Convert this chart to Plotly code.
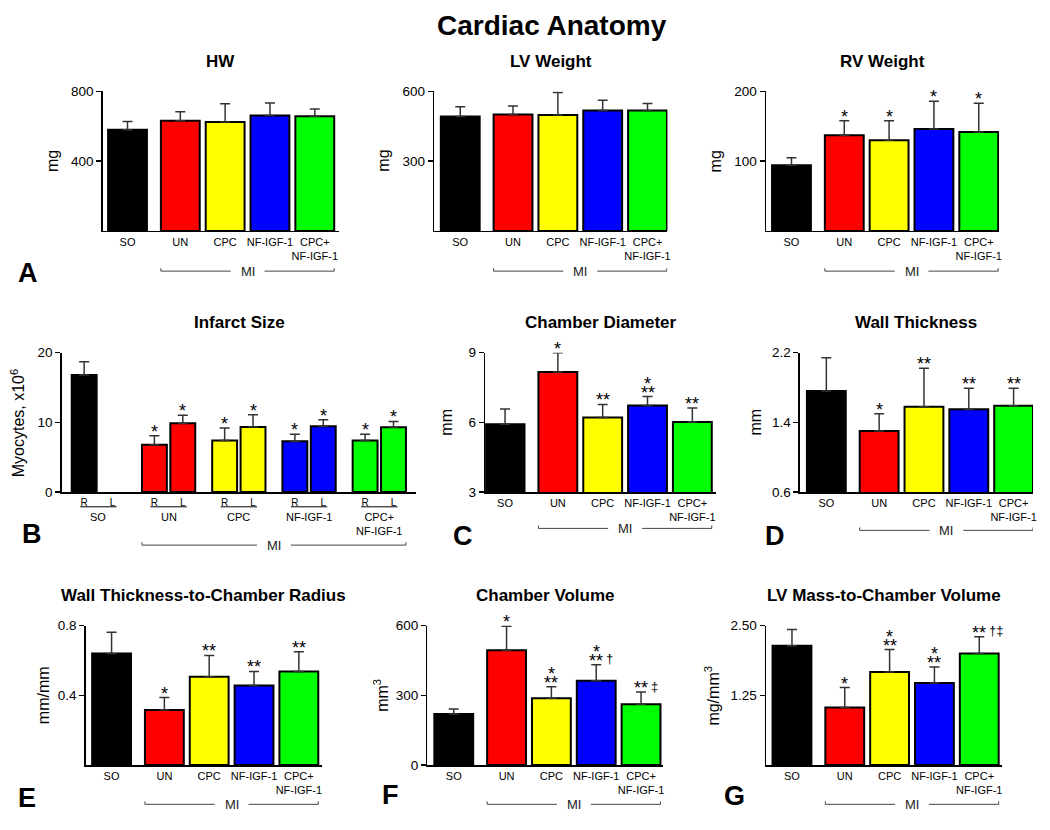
import plotly.graph_objects as go

W, H = 1050, 830
FONT = "Liberation Sans, Arial, sans-serif"

# ---------------- data ----------------
groups = ["SO", "UN", "CPC", "NF-IGF-1", "CPC+<br>NF-IGF-1"]
bar_colors = ["#000000", "#ff0000", "#ffff00", "#0000ff", "#00ff00"]

hw_mean = [580, 632, 625, 662, 657]
hw_err = [47, 51, 105, 72, 43]
hw_sig = [[], [], [], [], []]

lvw_mean = [492, 501, 499, 518, 518]
lvw_err = [42, 36, 97, 44, 30]
lvw_sig = [[], [], [], [], []]

rvw_mean = [94, 137, 130, 146, 142]
rvw_err = [11, 21, 28, 40, 41]
rvw_sig = [[], ["*"], ["*"], ["*"], ["*"]]

infarct_groups = ["SO", "UN", "CPC", "NF-IGF-1", "CPC+<br>NF-IGF-1"]
infarct_R_mean = [16.8, 6.8, 7.4, 7.3, 7.4]
infarct_R_err = [1.9, 1.27, 1.78, 0.99, 0.89]
infarct_L_mean = [None, 9.86, 9.34, 9.44, 9.30]
infarct_L_err = [0, 1.15, 1.74, 0.94, 0.84]
infarct_R_sig = [[], ["*"], ["*"], ["*"], ["*"]]
infarct_L_sig = [[], ["*"], ["*"], ["*"], ["*"]]

cd_mean = [5.92, 8.17, 6.21, 6.72, 6.01]
cd_err = [0.66, 0.82, 0.56, 0.39, 0.61]
cd_sig = [[], ["*"], ["**"], ["*", "**"], ["**"]]

wt_mean = [1.76, 1.30, 1.58, 1.55, 1.59]
wt_err = [0.38, 0.20, 0.44, 0.24, 0.20]
wt_sig = [[], ["*"], ["**"], ["**"], ["**"]]

wtr_mean = [0.640, 0.316, 0.507, 0.456, 0.537]
wtr_err = [0.122, 0.071, 0.122, 0.081, 0.113]
wtr_sig = [[], ["*"], ["**"], ["**"], ["**"]]

cv_mean = [220, 494, 287, 363, 262]
cv_err = [21, 103, 50, 69, 52]
cv_sig = [[], ["*"], ["*", "**"], ["*", "**†"], ["**‡"]]

lvm_mean = [2.14, 1.03, 1.67, 1.47, 2.00]
lvm_err = [0.29, 0.36, 0.40, 0.29, 0.30]
lvm_sig = [[], ["*"], ["*", "**"], ["*", "**"], ["**†‡"]]

# ---------------- layout helpers ----------------
UNIT = 45.0      # spacing between MI bars (px)
MI_GAP = 53.0    # SO -> UN spacing (px)
BW = 39.0        # bar width (px)

def px(x):
    return x / W

def py(y):
    return 1 - y / H

fig = go.Figure()
layout = dict(
    width=W, height=H, margin=dict(l=0, r=0, t=0, b=0),
    plot_bgcolor="white", paper_bgcolor="white", showlegend=False,
    font=dict(family=FONT, color="black"),
)
annotations = []
shapes = []

def ax_names(i):
    s = "" if i == 1 else str(i)
    return "x" + s, "y" + s, "xaxis" + s, "yaxis" + s

def star_annots(xref, yref, x, ytop, lines):
    # lines listed top -> bottom
    n = len(lines)
    for k, s in enumerate(lines):
        level = n - 1 - k
        stars = s.rstrip("†‡")
        suffix = s[len(stars):]
        shift = 4 + level * 9
        annotations.append(dict(
            x=x, y=ytop, xref=xref, yref=yref, text=stars, showarrow=False,
            xanchor="center", yanchor="middle", yshift=shift,
            font=dict(size=18, family=FONT, color="black")))
        if suffix:
            annotations.append(dict(
                x=x, y=ytop, xref=xref, yref=yref, text=suffix, showarrow=False,
                xanchor="left", yanchor="middle", yshift=shift + 2,
                xshift=len(stars) * 3.6 + 1,
                font=dict(size=13, family=FONT, color="black")))

def mi_bracket(xref, x_left, x_right, y_px):
    xc = (x_left + x_right) / 2
    yl = py(y_px)
    ln = dict(color="#444", width=1)
    shapes.append(dict(type="line", xref=xref, yref="paper", x0=x_left, x1=xc - 17,
                       y0=yl, y1=yl, line=ln))
    shapes.append(dict(type="line", xref=xref, yref="paper", x0=xc + 17, x1=x_right,
                       y0=yl, y1=yl, line=ln))
    for xe in (x_left, x_right):
        shapes.append(dict(type="line", xref=xref, yref="paper", x0=xe, x1=xe,
                           y0=yl, y1=py(y_px - 3), line=ln))
    annotations.append(dict(x=xc, y=yl, xref=xref, yref="paper", text="MI",
                            showarrow=False, xanchor="center", yanchor="middle",
                            font=dict(size=13, family=FONT, color="#222")))

def axis_common():
    return dict(showgrid=False, zeroline=False, showline=True, linecolor="black",
                linewidth=1.5, fixedrange=True)

def add_title(text, xc_px, y_px):
    annotations.append(dict(x=px(xc_px), y=py(y_px), xref="paper", yref="paper",
                            text="<b>" + text + "</b>", showarrow=False,
                            xanchor="center", yanchor="middle",
                            font=dict(size=17, family=FONT, color="black")))

def add_ylabel(text, x_px, y_px):
    annotations.append(dict(x=px(x_px), y=py(y_px), xref="paper", yref="paper",
                            text=text, showarrow=False, textangle=-90,
                            xanchor="center", yanchor="middle",
                            font=dict(size=16, family=FONT, color="black")))

def add_letter(text, x_px, y_px):
    annotations.append(dict(x=px(x_px), y=py(y_px), xref="paper", yref="paper",
                            text="<b>" + text + "</b>", showarrow=False,
                            xanchor="center", yanchor="middle",
                            font=dict(size=27, family=FONT, color="black")))

def y_axis(i, yr, ytv, ytt, top, bottom, anchor):
    d = axis_common()
    d.update(domain=[py(bottom), py(top)], range=yr, tickvals=ytv, ticktext=ytt,
             ticks="outside", ticklen=5, tickwidth=1.5, tickcolor="black",
             tickfont=dict(size=13.5, family=FONT, color="black"), anchor=anchor)
    return d

# ---------------- standard panels ----------------
panels = [
    dict(i=1, title="HW", ylabel="mg", mean=hw_mean, err=hw_err, sig=hw_sig,
         yr=[0, 800], ytv=[400, 800], ytt=["400", "800"],
         left=103, so=128, right=340, top=86, bottom=228, title_y=55, ylab_x=52,
         letter="A", letter_xy=(28, 271), mi_y=269),
    dict(i=2, title="LV Weight", ylabel="mg", mean=lvw_mean, err=lvw_err, sig=lvw_sig,
         yr=[0, 600], ytv=[300, 600], ytt=["300", "600"],
         left=436, so=462, right=670, top=86, bottom=228, title_y=55, ylab_x=385,
         letter=None, letter_xy=None, mi_y=269),
    dict(i=3, title="RV Weight", ylabel="mg", mean=rvw_mean, err=rvw_err, sig=rvw_sig,
         yr=[0, 200], ytv=[100, 200], ytt=["100", "200"],
         left=769, so=794.5, right=1003, top=86, bottom=228, title_y=55, ylab_x=718,
         letter=None, letter_xy=None, mi_y=269),
    dict(i=5, title="Chamber Diameter", ylabel="mm", mean=cd_mean, err=cd_err, sig=cd_sig,
         yr=[3, 9], ytv=[3, 6, 9], ytt=["3", "6", "9"],
         left=487, so=507, right=719, top=352, bottom=494, title_y=321, ylab_x=448,
         letter="C", letter_xy=(465, 539), mi_y=531),
    dict(i=6, title="Wall Thickness", ylabel="mm", mean=wt_mean, err=wt_err, sig=wt_sig,
         yr=[0.6, 2.2], ytv=[0.6, 1.4, 2.2], ytt=["0.6", "1.4", "2.2"],
         left=803, so=829.5, right=1037, top=352, bottom=494, title_y=321, ylab_x=758,
         letter="D", letter_xy=(778, 539), mi_y=533),
    dict(i=7, title="Wall Thickness-to-Chamber Radius", ylabel="mm/mm", mean=wtr_mean,
         err=wtr_err, sig=wtr_sig,
         yr=[0, 0.8], ytv=[0.4, 0.8], ytt=["0.4", "0.8"],
         left=86, so=112, right=323, top=630, bottom=772, title_y=599, ylab_x=43,
         letter="E", letter_xy=(27, 806), mi_y=812),
    dict(i=8, title="Chamber Volume", ylabel="mm<sup>3</sup>", mean=cv_mean, err=cv_err,
         sig=cv_sig, yr=[0, 600], ytv=[0, 300, 600], ytt=["0", "300", "600"],
         left=429, so=455.5, right=666, top=630, bottom=772, title_y=599, ylab_x=383,
         letter="F", letter_xy=(392, 803), mi_y=812),
    dict(i=9, title="LV Mass-to-Chamber Volume", ylabel="mg/mm<sup>3</sup>", mean=lvm_mean,
         err=lvm_err, sig=lvm_sig, yr=[0, 2.5], ytv=[1.25, 2.5], ytt=["1.25", "2.50"],
         left=769, so=795, right=1006, top=630, bottom=772, title_y=599, ylab_x=715,
         letter="G", letter_xy=(737, 804), mi_y=812),
]

xpos = [0.0] + [MI_GAP + UNIT * k for k in range(len(groups) - 1)]

for p in panels:
    xr, yr_, xa, ya = ax_names(p["i"])
    fig.add_trace(go.Bar(
        x=xpos, y=p["mean"], width=BW, xaxis=xr, yaxis=yr_,
        marker=dict(color=bar_colors, line=dict(color="black", width=2)),
        error_y=dict(type="data", symmetric=False, array=p["err"],
                     arrayminus=[0] * len(p["err"]), color="#333333",
                     thickness=1.5, width=5),
        hoverinfo="skip"))
    xd = axis_common()
    xd.update(domain=[px(p["left"]), px(p["right"])],
              range=[p["left"] - p["so"], p["right"] - p["so"]],
              tickvals=xpos, ticktext=groups, ticks="", anchor=yr_, tickangle=0,
              tickfont=dict(size=11, family=FONT, color="black"))
    layout[xa] = xd
    layout[ya] = y_axis(p["i"], p["yr"], p["ytv"], p["ytt"], p["top"], p["bottom"], xr)
    for k in range(len(groups)):
        if p["sig"][k]:
            star_annots(xr, yr_, xpos[k], p["mean"][k] + p["err"][k], p["sig"][k])
    add_title(p["title"], (p["left"] + p["right"]) / 2, p["title_y"])
    add_ylabel(p["ylabel"], p["ylab_x"], (p["top"] + p["bottom"]) / 2)
    if p["letter"]:
        add_letter(p["letter"], *p["letter_xy"])
    mi_bracket(xr, xpos[1] - BW / 2, xpos[-1] + BW / 2, p["mi_y"])

# ---------------- infarct size panel (R / L pairs) ----------------
G_SP = 70.5
RL_SP = 28.5
BW2 = 25.0
xr, yr_, xa, ya = ax_names(4)
left, so, right, top, bottom = 62, 84.5, 418, 352, 494
xR = [G_SP * g for g in range(len(infarct_groups))]
xL = [x + RL_SP for x in xR]

fig.add_trace(go.Bar(
    x=xR, y=infarct_R_mean, width=BW2, xaxis=xr, yaxis=yr_,
    marker=dict(color=bar_colors, line=dict(color="black", width=2)),
    error_y=dict(type="data", symmetric=False, array=infarct_R_err,
                 arrayminus=[0] * 5, color="#333333", thickness=1.5, width=5),
    hoverinfo="skip"))
fig.add_trace(go.Bar(
    x=xL, y=infarct_L_mean, width=BW2, xaxis=xr, yaxis=yr_,
    marker=dict(color=bar_colors, line=dict(color="black", width=2)),
    error_y=dict(type="data", symmetric=False, array=infarct_L_err,
                 arrayminus=[0] * 5, color="#333333", thickness=1.5, width=5),
    hoverinfo="skip"))
xd = axis_common()
tv = []
tt = []
for a, b in zip(xR, xL):
    tv += [a, b]
    tt += ["R", "L"]
xd.update(domain=[px(left), px(right)], range=[left - so, right - so],
          tickvals=tv, ticktext=tt, ticks="", anchor=yr_, tickangle=0,
          tickfont=dict(size=10, family=FONT, color="black"))
layout[xa] = xd
layout[ya] = y_axis(4, [0, 20], [0, 10, 20], ["0", "10", "20"], top, bottom, xr)
for g in range(len(infarct_groups)):
    if infarct_R_sig[g]:
        star_annots(xr, yr_, xR[g], infarct_R_mean[g] + infarct_R_err[g], infarct_R_sig[g])
    if infarct_L_sig[g]:
        star_annots(xr, yr_, xL[g], infarct_L_mean[g] + infarct_L_err[g], infarct_L_sig[g])
    shapes.append(dict(type="line", xref=xr, yref="paper", x0=xR[g] - 4, x1=xL[g] + 4,
                       y0=py(509), y1=py(509), line=dict(color="black", width=1)))
    annotations.append(dict(x=(xR[g] + xL[g]) / 2, y=py(511), xref=xr, yref="paper",
                            text=infarct_groups[g], showarrow=False, xanchor="center",
                            yanchor="top", font=dict(size=11, family=FONT, color="black")))
add_title("Infarct Size", (left + right) / 2, 321)
add_ylabel("Myocytes, x10<sup>6</sup>", 18, (top + bottom) / 2)
add_letter("B", 32, 537)
mi_bracket(xr, xR[1] - BW2 / 2, xL[-1] + BW2 / 2, 548)

# ---------------- main title ----------------
annotations.append(dict(x=px(437), y=py(19), xref="paper", yref="paper",
                        text="<b>Cardiac Anatomy</b>", showarrow=False,
                        xanchor="left", yanchor="middle",
                        font=dict(size=28, family=FONT, color="black")))

layout["annotations"] = annotations
layout["shapes"] = shapes
layout["bargap"] = 0
fig.update_layout(**layout)
fig.write_html(
    "out.html",
    config={"displayModeBar": False, "staticPlot": True},
    post_script="document.body.style.margin='0';document.body.style.padding='0';"
                "document.documentElement.style.overflow='hidden';",
)
